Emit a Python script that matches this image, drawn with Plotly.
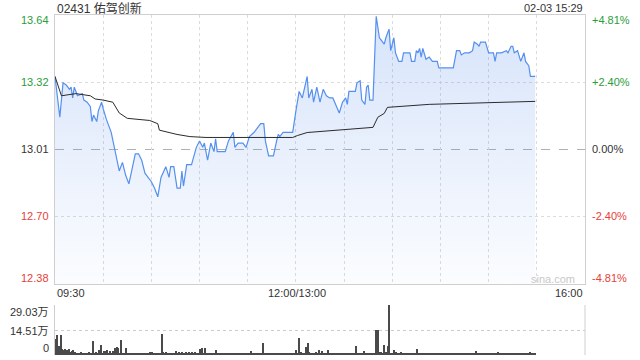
import plotly.graph_objects as go

# ---------------- data ----------------
title_text = "02431 佑驾创新"
stamp_text = "02-03 15:29"
prev_close = 13.01

price_times = ["09:30","09:33","09:35","09:37","09:39","09:40","09:41","09:42","09:44","09:47",
               "09:48","09:50","09:52","09:53","09:54","09:56","09:57","09:59","10:00","10:02",
               "10:05","10:07","10:10","10:12","10:14","10:16","10:18","10:20","10:22","10:24",
               "10:26","10:28","10:30","10:32","10:34","10:36","10:37","10:39","10:41","10:42",
               "10:44","10:45","10:46","10:48","10:49","10:50","10:52","10:55","10:57","10:58",
               "11:00","11:02","11:03","11:05","11:07","11:09","11:10","11:11","11:16","11:18",
               "11:21","11:22","11:24","11:27","11:29","11:31","11:34","11:36","11:38","11:40",
               "11:41","11:43","11:46","11:48","11:49","11:50","11:52","11:54","11:56","11:58",
               "12:00","13:02","13:04","13:06","13:07","13:08","13:10","13:11","13:13","13:15",
               "13:17","13:19","13:21","13:23","13:25","13:27","13:29","13:31","13:32","13:33",
               "13:35","13:37","13:38","13:40","13:41","13:43","13:44","13:45","13:46","13:48",
               "13:50","13:52","13:53","13:55","13:56","13:58","13:59","14:01","14:02","14:04",
               "14:06","14:07","14:11","14:12","14:14","14:15","14:16","14:17","14:18","14:19",
               "14:21","14:23","14:25","14:27","14:28","14:29","14:38","14:40","14:42","14:43",
               "14:45","14:48","14:50","14:51","14:53","14:54","14:55","14:58","15:00","15:02",
               "15:03","15:04","15:05","15:08","15:11","15:12","15:14","15:15","15:16","15:18",
               "15:20","15:22","15:23","15:24","15:25","15:26","15:28","15:29"]
prices = [13.35,13.16,13.32,13.31,13.29,13.30,13.25,13.30,13.26,13.27,
          13.24,13.23,13.21,13.14,13.17,13.14,13.19,13.23,13.20,13.15,
          13.09,13.02,12.91,12.95,12.89,12.85,12.92,12.99,12.99,12.96,
          12.90,12.88,12.86,12.83,12.79,12.88,12.90,12.93,12.88,12.93,
          12.93,12.88,12.83,12.83,12.91,12.84,12.94,12.94,13.00,13.02,
          13.05,13.02,13.04,12.96,13.04,13.00,13.06,13.00,13.00,13.05,
          13.09,13.02,13.04,13.04,13.02,13.07,13.09,13.11,13.13,13.13,
          13.05,12.98,12.98,13.05,13.08,13.07,13.09,13.09,13.09,13.09,
          13.19,13.28,13.25,13.32,13.35,13.25,13.29,13.23,13.30,13.23,
          13.29,13.26,13.25,13.25,13.21,13.18,13.23,13.25,13.22,13.28,
          13.28,13.28,13.32,13.33,13.24,13.22,13.30,13.31,13.24,13.24,
          13.63,13.53,13.52,13.50,13.53,13.57,13.47,13.53,13.46,13.42,
          13.42,13.46,13.46,13.42,13.42,13.47,13.46,13.48,13.44,13.48,
          13.43,13.44,13.42,13.42,13.42,13.39,13.39,13.47,13.47,13.45,
          13.46,13.46,13.47,13.51,13.50,13.49,13.51,13.51,13.46,13.46,
          13.46,13.42,13.46,13.46,13.47,13.46,13.49,13.49,13.46,13.47,
          13.42,13.46,13.42,13.41,13.40,13.35,13.35,13.35]

avg_times = ["09:30","09:34","09:43","09:52","09:55","10:00","10:06","10:10","10:15","10:29",
             "10:34","10:35","10:46","10:54","11:04","11:25","11:58","13:01","13:07","13:48",
             "13:51","13:55","13:57","14:23","15:28","15:29"]
avg_prices = [13.35,13.26,13.27,13.26,13.245,13.24,13.23,13.18,13.155,13.145,
              13.13,13.10,13.08,13.07,13.066,13.066,13.066,13.075,13.089,13.113,
              13.16,13.178,13.206,13.22,13.234,13.234]

# volume per minute, unit: 万 shares (09:30 .. 15:29)
volume_wan = [
    9.1, 11.6, 5.0, 11.6, 3.5, 3.0, 3.3, 2.9, 3.3, 2.0,
    2.5, 2.9, 1.9, 1.2, 1.4, 0.9, 1.9, 1.1, 1.0, 0.8,
    1.4, 1.9, 0.9, 8.3, 1.2, 1.9, 1.0, 2.9, 5.8, 1.1,
    2.5, 2.5, 2.9, 1.0, 2.3, 1.2, 2.5, 3.9, 4.8, 3.9,
    1.0, 8.7, 1.2, 1.4, 3.9, 0.9, 1.4, 0.8, 1.0, 0.7,
    0.9, 0.8, 1.1, 0.7, 0.9, 1.0, 0.8, 1.2, 0.9, 1.5,
    2.0, 1.0, 0.8, 1.1, 0.9, 1.0, 12.2, 1.9, 1.0, 1.9,
    1.4, 1.0, 0.8, 1.2, 1.0, 2.5, 1.3, 1.9, 1.0, 1.6,
    1.2, 1.9, 0.9, 1.5, 1.1, 1.8, 1.0, 1.9, 0.8, 1.2,
    3.3, 3.9, 1.0, 4.1, 1.0, 0.9, 1.1, 0.8, 1.0, 0.9,
    2.9, 1.0, 0.8, 1.1, 0.9, 0.7, 1.0, 0.8, 0.9, 1.1,
    0.8, 0.9, 1.0, 0.7, 0.9, 0.8, 1.0, 0.9, 0.8, 1.0,
    0.9, 1.1, 2.3, 0.8, 1.0, 0.9, 0.8, 1.1, 0.9, 7.2,
    0.9, 0.8, 1.0, 0.7, 0.9, 1.0, 0.8, 0.9, 1.1, 0.8,
    0.9, 1.0, 0.8, 0.9, 1.0, 0.7, 0.9, 0.8, 1.0, 0.9,
    2.9, 1.2, 9.7, 1.9, 1.4, 1.0, 4.8, 7.2, 1.5, 1.2,
    1.4, 1.0, 1.5, 1.1, 2.9, 1.0, 2.5, 1.1, 0.9, 1.0,
    2.9, 1.0, 0.8, 0.9, 1.1, 0.8, 1.0, 0.9, 0.8, 1.0,
    0.9, 1.1, 0.8, 1.0, 0.9, 0.8, 1.0, 5.2, 1.0, 0.9,
    1.1, 0.8, 2.5, 1.0, 0.9, 0.8, 1.1, 0.9, 1.0, 1.2,
    14.5, 14.5, 1.9, 1.9, 1.2, 5.8, 1.9, 5.2, 29.03, 1.4,
    1.2, 2.9, 1.5, 1.4, 1.2, 1.5, 1.0, 1.3, 1.1, 1.4,
    1.0, 1.2, 1.1, 1.3, 1.0, 3.5, 1.2, 1.0, 1.4, 1.1,
    1.2, 1.0, 1.3, 1.1, 0.9, 1.2, 1.0, 1.1, 1.3, 0.9,
    1.0, 1.2, 0.8, 1.1, 1.0, 0.9, 1.2, 1.0, 0.8, 1.1,
    1.3, 1.0, 1.1, 0.9, 1.2, 1.0, 0.8, 1.1, 1.0, 1.2,
    1.0, 0.9, 2.3, 1.1, 1.4, 1.0, 1.2, 0.9, 1.1, 1.0,
    1.2, 1.0, 1.3, 0.9, 1.1, 1.0, 2.0, 1.2, 1.0, 0.9,
    1.1, 1.0, 0.8, 1.2, 1.0, 0.9, 1.1, 1.0, 1.2, 0.9,
    1.0, 1.1, 0.9, 1.2, 1.0, 1.1, 1.8, 1.0, 1.2, 0.8,
]

price_ticks = [13.64, 13.32, 13.01, 12.70, 12.38]
pct_ticks = ["+4.81%", "+2.40%", "0.00%", "-2.40%", "-4.81%"]
vol_ticks = ["29.03万", "14.51万", "0"]
vol_max = 29.03
x_labels = ["09:30", "12:00/13:00", "16:00"]
pct_limit = 0.0481
pct_mid = 0.0240


def to_idx(t):
    h, m = map(int, t.split(":"))
    mins = h * 60 + m
    if mins <= 12 * 60:
        return mins - (9 * 60 + 30)
    return mins - 13 * 60 + 150


TOTAL = 330
px_idx = [to_idx(t) for t in price_times]
avg_idx = [to_idx(t) for t in avg_times]
vol_idx = list(range(len(volume_wan)))

y_lo = prev_close * (1 - pct_limit)
y_hi = prev_close * (1 + pct_limit)

W, H = 640, 360
L, R = 55, 585
T1, B1 = 15, 284
T2, B2 = 305, 355


def fx(p):
    return p / W


def fy(p):
    return 1 - p / H


GREEN = "#2a9d3a"
RED = "#e8403a"
DARK = "#333333"
BORDER = "#cfcfcf"
GRID = "#dcdcdc"
FONT = "Liberation Sans, Arial, Noto Sans CJK SC, sans-serif"

fig = go.Figure()

fig.add_trace(go.Scatter(
    x=px_idx, y=prices, mode="lines",
    line=dict(color="#5590ee", width=1.2),
    fill="tozeroy",
    fillgradient=dict(type="vertical", start=y_lo, stop=y_hi,
                      colorscale=[[0, "rgba(70,130,235,0.02)"], [1, "rgba(70,130,235,0.22)"]]),
    xaxis="x", yaxis="y", hoverinfo="skip",
))
fig.add_trace(go.Scatter(
    x=avg_idx, y=avg_prices, mode="lines",
    line=dict(color="#2b2b2b", width=1),
    xaxis="x", yaxis="y", hoverinfo="skip",
))
fig.add_trace(go.Bar(
    x=vol_idx, y=volume_wan, width=0.7,
    marker=dict(color="#4a4a4a", line=dict(width=0)),
    xaxis="x2", yaxis="y2", hoverinfo="skip",
))

grid_x = list(range(30, TOTAL, 30))

fig.update_layout(
    width=W, height=H, margin=dict(l=0, r=0, t=0, b=0),
    paper_bgcolor="white", plot_bgcolor="white",
    showlegend=False, font=dict(family=FONT, size=11, color=DARK),
    xaxis=dict(domain=[fx(L), fx(R)], range=[0, TOTAL], tickvals=grid_x,
               showticklabels=False, ticks="", showgrid=True, gridcolor=GRID,
               griddash="dot", gridwidth=1, zeroline=False,
               showline=True, mirror=True, linecolor=BORDER, linewidth=1,
               fixedrange=True),
    yaxis=dict(domain=[fy(B1), fy(T1)], range=[y_lo, y_hi],
               tickvals=[prev_close * (1 + pct_mid), prev_close * (1 - pct_mid)],
               showticklabels=False, ticks="", showgrid=True, gridcolor=GRID,
               griddash="dot", gridwidth=1, zeroline=False,
               showline=True, mirror=True, linecolor=BORDER, linewidth=1,
               fixedrange=True),
    xaxis2=dict(domain=[fx(L), fx(R)], range=[-0.5, TOTAL], anchor="y2",
                showticklabels=False, ticks="", showgrid=False, zeroline=False,
                showline=False, fixedrange=True),
    yaxis2=dict(domain=[fy(B2), fy(T2)], range=[0, vol_max], anchor="x2",
                tickvals=[vol_max / 2, vol_max], showticklabels=False, ticks="",
                showgrid=True, gridcolor="#cccccc", griddash="dot", gridwidth=1,
                zeroline=False, showline=True, linecolor=BORDER, linewidth=1,
                fixedrange=True),
    bargap=0,
)

shapes = [
    dict(type="line", xref="x", yref="y", x0=0, x1=TOTAL, y0=prev_close, y1=prev_close,
         line=dict(color="#b0b0b0", width=1, dash="dash"), layer="below"),
    dict(type="line", xref="paper", yref="paper", x0=fx(R), x1=fx(R), y0=fy(B2), y1=fy(T2),
         line=dict(color=BORDER, width=1)),
]
fig.update_layout(shapes=shapes)


def label(x, y, text, anchor, size=11, color=DARK):
    return dict(x=fx(x), y=fy(y), xref="paper", yref="paper", text=text, showarrow=False,
                xanchor=anchor, yanchor="middle", font=dict(size=size, color=color))


ann = [label(L, 8, title_text, "left", 12), label(R, 8, stamp_text, "right", 11)]

price_label_y = [20, 82, 149, 216, 278]
price_colors = [GREEN, GREEN, DARK, RED, RED]
for lab, yy, col, pct in zip(price_ticks, price_label_y, price_colors, pct_ticks):
    ann.append(label(51, yy, f"{lab:.2f}", "right", 11, col))
    ann.append(label(590, yy, pct, "left", 11, col))

ann.append(label(L, 293, x_labels[0], "left"))
ann.append(label(297, 293, x_labels[1], "center"))
ann.append(label(R, 293, x_labels[2], "right"))

for lab, yy in zip(vol_ticks, [312, 331, 348]):
    ann.append(label(51, yy, lab, "right"))

ann.append(label(553, 279, "sina.com", "center", 11, "#c8c8c8"))
fig.update_layout(annotations=ann)

fig.write_html("out.html")
